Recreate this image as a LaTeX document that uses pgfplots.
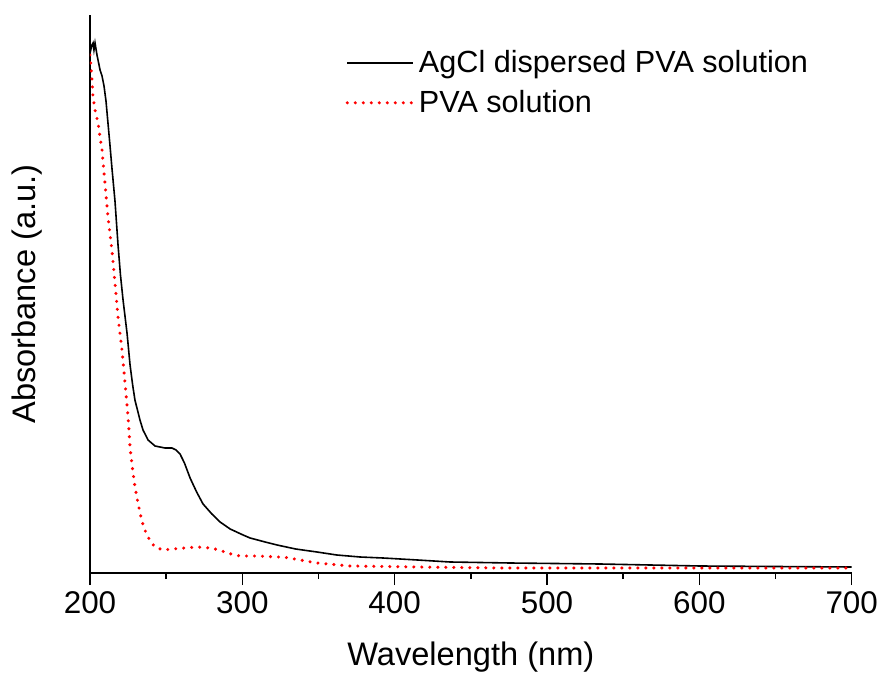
\documentclass[border=0pt]{standalone}
\usepackage{pgfplots}
\pgfplotsset{compat=1.18}
\usepackage{fontspec}
\setmainfont{Liberation Sans}
\begin{document}
\begin{tikzpicture}
\path[use as bounding box] (-45pt,-52.5pt) rectangle (395.5pt,286.5pt);
\begin{axis}[
  scale only axis, width=380.85pt, height=279pt,
  xmin=200, xmax=700, ymin=0, ymax=558,
  axis x line=bottom, axis y line=left,
  axis line style={-, line width=0.7pt},
  xtick={200,300,400,500,600,700},
  minor x tick num=1,
  ytick=\empty,
  tick align=outside,
  major tick length=6pt, minor tick length=3pt,
  tick style={line width=0.7pt, black},
  /pgf/number format/assume math mode=true,
  ticklabel style={font=\fontsize{15.7}{18}\selectfont},
  xlabel={Wavelength (nm)}, ylabel={Absorbance (a.u.)},
  label style={font=\fontsize{16.3}{19}\selectfont},
  xlabel style={at={(axis description cs:0.5,-0.1505)}, anchor=center},
  ylabel style={at={(axis description cs:-0.0827,0.5)}, anchor=center},
  legend style={at={(rel axis cs:0.335,0.944)}, anchor=north west, draw=none, fill=none,
    font=\fontsize{15.3}{18}\selectfont, row sep=3.2pt, inner sep=0pt,
    nodes={inner sep=2pt}},
  legend cell align=left,
  legend image code/.code={\draw[#1] plot coordinates {(0cm,0cm) (0.58cm,0cm) (1.16cm,0cm)};},
]
\addplot[black, line width=0.8pt] table {
x y
200 520
201.3 528
202.0 530
202.6 523
203.3 530
204.6 518
206.6 503
207.9 497
209.2 487
210.5 472
211.8 450
213.1 428
214.4 405
216.4 372
218.4 328
220 298
221.7 273
224.3 240
226.3 208
228 188
229.5 173
232.8 153
234.8 143
238.1 133
242.7 127
249.2 125
253.8 125
256.5 123
259.1 119
262 110
265.7 95
270 81
274.2 69
280 59
285.4 51
292 44
300.5 38
305.1 35
315 31
322.8 28
335 24
349 21
362 18
377.3 16
392.4 15
415 13
436.4 11
475.8 10
534.9 9
600.5 7
650 6.5
700 6
};
\addlegendentry{AgCl dispersed PVA solution}
\addplot[red, line width=1.7pt, line cap=round, dash pattern=on 0pt off 4pt] table {
x y
200 518
201.3 493
202 476
203.3 463
205.3 450
206.6 436
207.9 423
209.8 390
211.8 356
214.4 323
216.4 290
218.4 256
221 223
223 190
225 156
226.3 125
228 103
229.5 86
232.8 60
235 47
237.4 38
240 31
242.7 26
247.9 23
254.5 24
262 25
270.3 26
278.8 25
285 23
290 20
298.5 17
310 17
322.8 16
326.7 16
337.9 13
349 10
360 8.5
370.7 7
414.7 6
469 5
700 5
};
\addlegendentry{PVA solution}
\end{axis}
\end{tikzpicture}
\end{document}
